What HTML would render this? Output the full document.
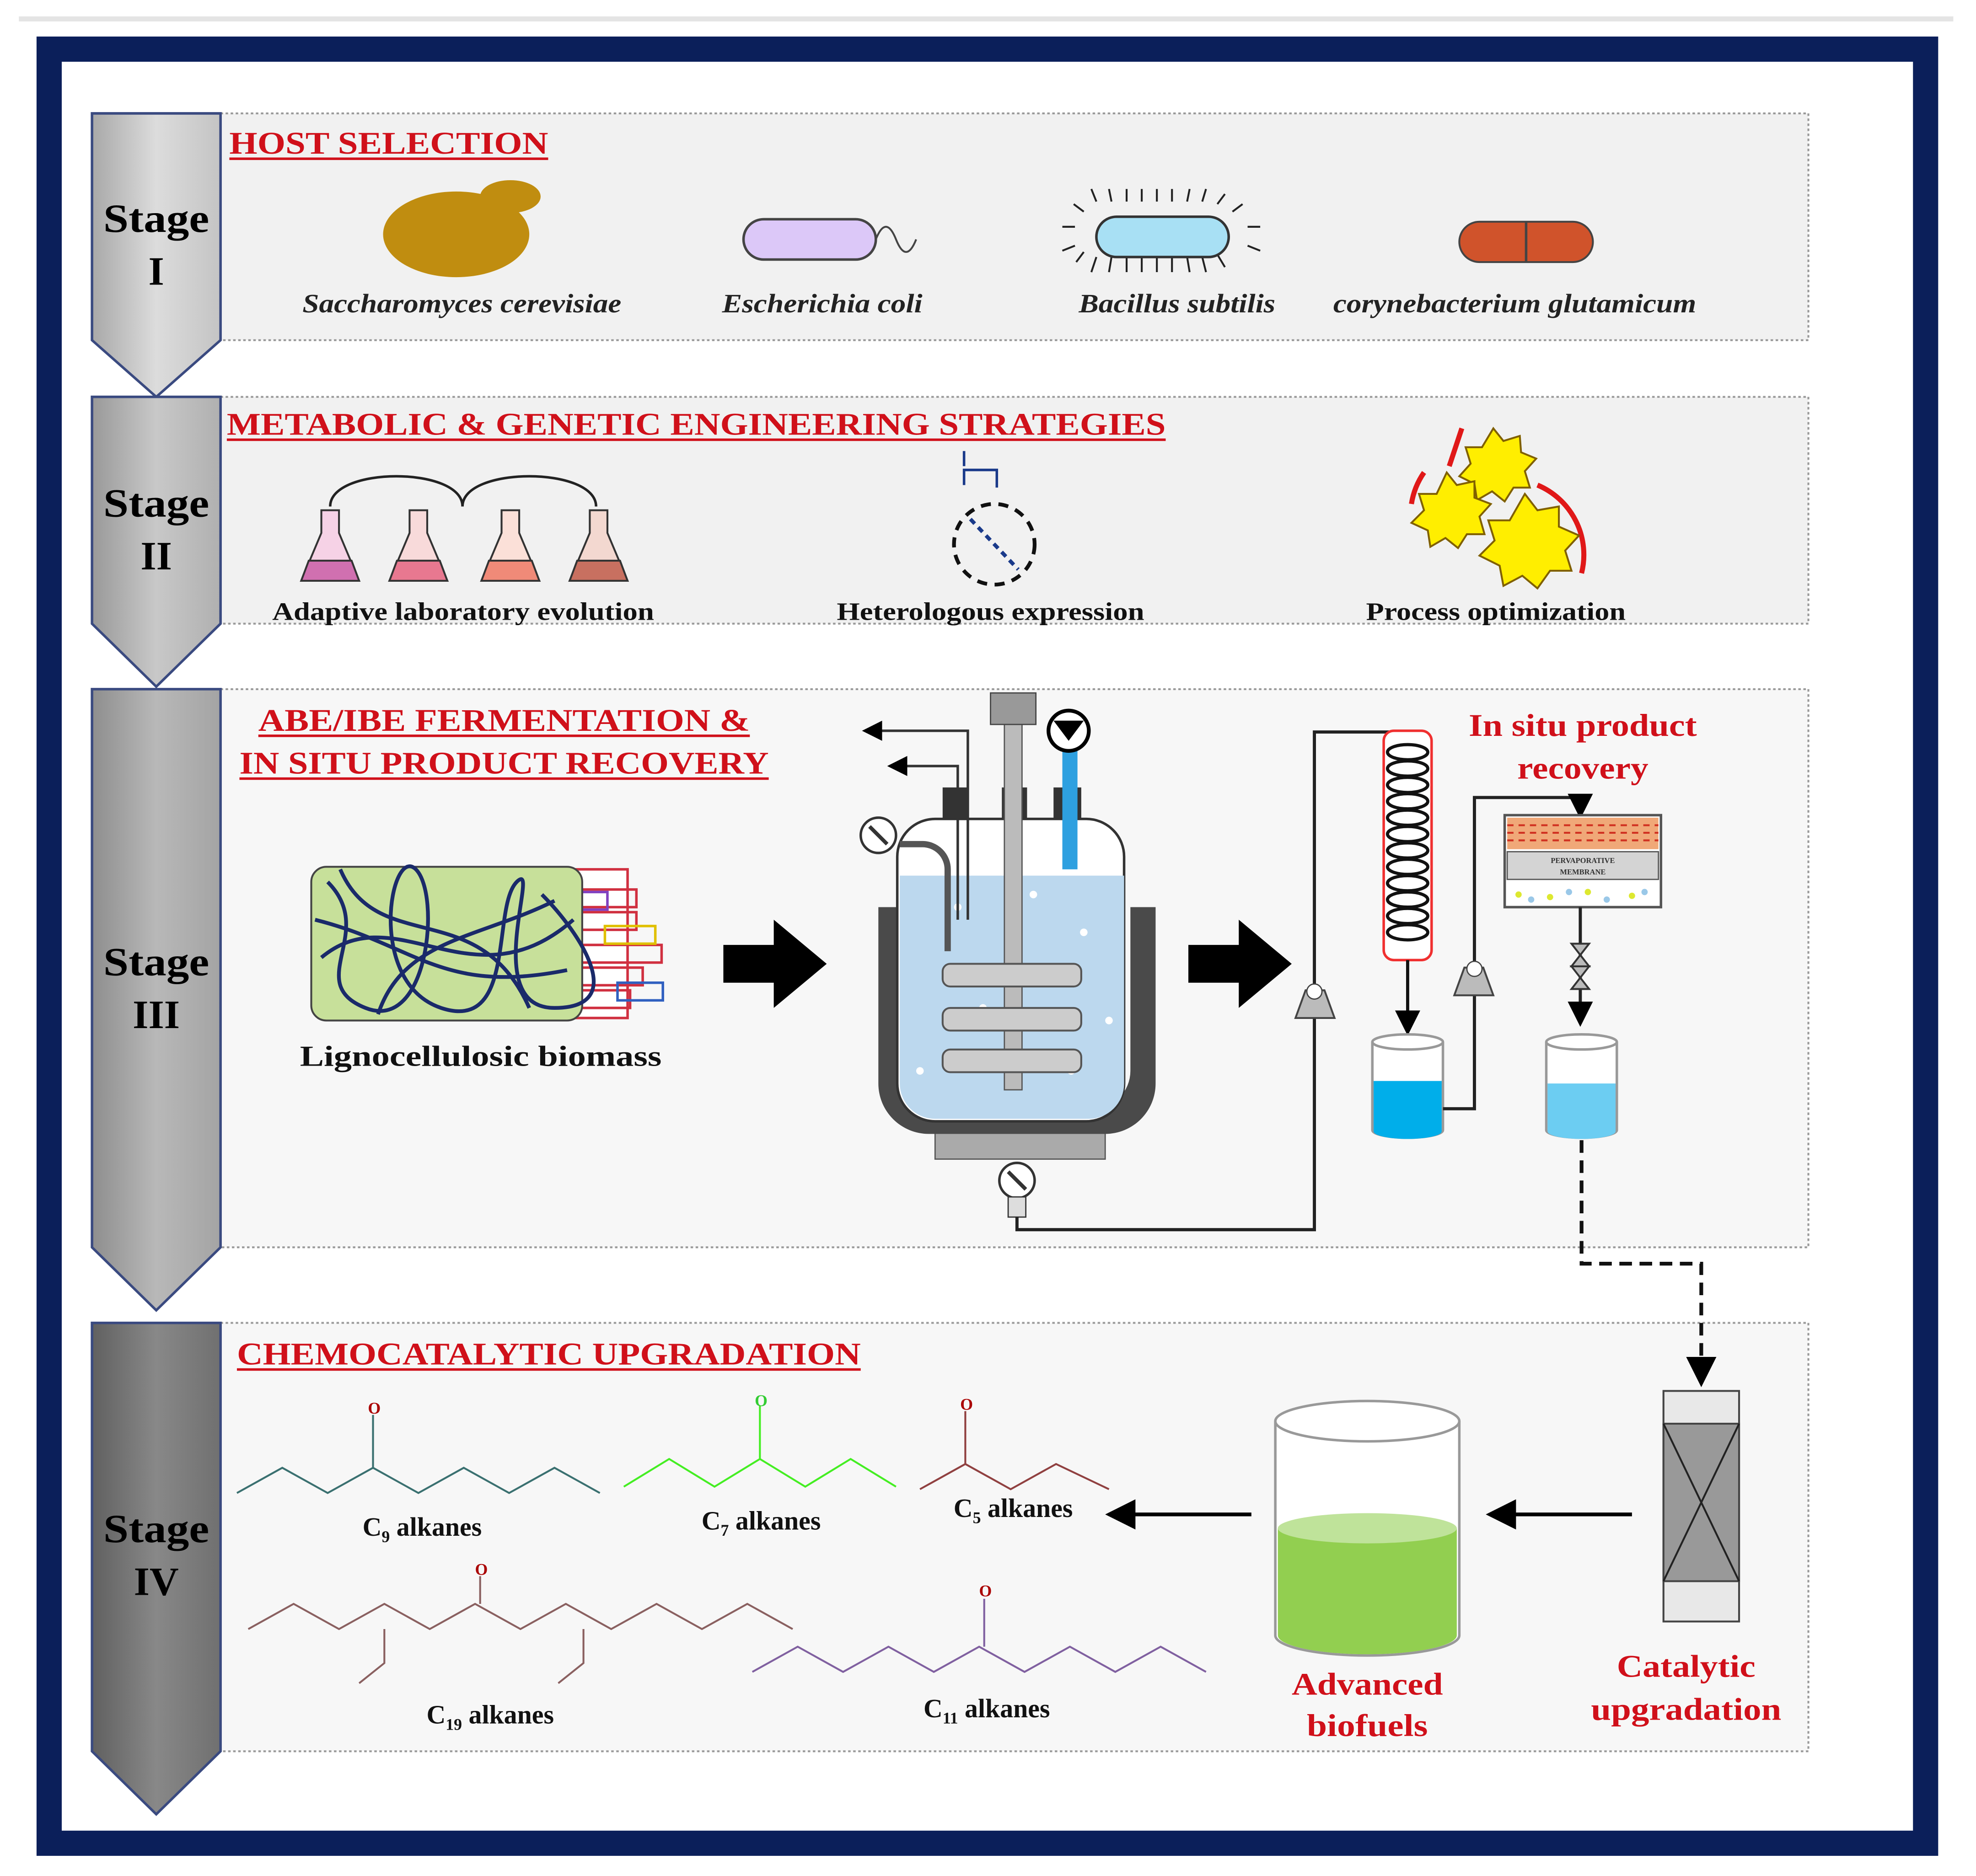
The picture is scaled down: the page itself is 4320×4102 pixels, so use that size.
<!DOCTYPE html>
<html><head><meta charset="utf-8"><style>
html,body{margin:0;padding:0;background:#fff;width:4320px;height:4102px;overflow:hidden}
svg{display:block}
text{font-family:"Liberation Serif",serif;font-weight:bold}
</style></head><body>
<svg width="4320" height="4102" viewBox="0 0 1568 1489" preserveAspectRatio="none" xmlns="http://www.w3.org/2000/svg">
<defs>
<linearGradient id="chev1" x1="0" x2="1"><stop offset="0" stop-color="#a8a8a8"/><stop offset=".5" stop-color="#dcdcdc"/><stop offset="1" stop-color="#c4c4c4"/></linearGradient>
<linearGradient id="chev2" x1="0" x2="1"><stop offset="0" stop-color="#999"/><stop offset=".5" stop-color="#c8c8c8"/><stop offset="1" stop-color="#b0b0b0"/></linearGradient>
<linearGradient id="chev3" x1="0" x2="1"><stop offset="0" stop-color="#8e8e8e"/><stop offset=".5" stop-color="#b8b8b8"/><stop offset="1" stop-color="#a4a4a4"/></linearGradient>
<linearGradient id="chev4" x1="0" x2="1"><stop offset="0" stop-color="#606060"/><stop offset=".5" stop-color="#888"/><stop offset="1" stop-color="#707070"/></linearGradient>
<marker id="ah" markerWidth="8" markerHeight="8" refX="6" refY="4" orient="auto"><path d="M0,0 L8,4 L0,8z" fill="#000"/></marker>
</defs>
<rect width="1568" height="1489" fill="#fff"/>
<rect x="15" y="13" width="1535" height="4" fill="#e4e4e4"/>
<rect x="39" y="39" width="1489" height="1424" fill="#fff" stroke="#0b1f5a" stroke-width="20"/>

<g fill="#f1f1f1" stroke="#9a9a9a" stroke-dasharray="2,2" stroke-width="1.5">
<rect x="175" y="90" width="1260" height="180"/>
<rect x="175" y="315" width="1260" height="180"/>
<rect x="175" y="547" width="1260" height="443" fill="#f7f7f7"/>
<rect x="175" y="1050" width="1260" height="340" fill="#f7f7f7"/>
</g>
<g stroke="#3a4a80" stroke-width="2">
<path d="M73,90 H175 V270 L124,315 L73,270z" fill="url(#chev1)"/>
<path d="M73,315 H175 V495 L124,545 L73,495z" fill="url(#chev2)"/>
<path d="M73,547 H175 V990 L124,1040 L73,990z" fill="url(#chev3)"/>
<path d="M73,1050 H175 V1390 L124,1440 L73,1390z" fill="url(#chev4)"/>
</g>
<g font-size="32" text-anchor="middle" fill="#000">
<text x="124" y="184" textLength="84" lengthAdjust="spacingAndGlyphs">Stage</text><text x="124" y="226">I</text>
<text x="124" y="410" textLength="84" lengthAdjust="spacingAndGlyphs">Stage</text><text x="124" y="452">II</text>
<text x="124" y="774" textLength="84" lengthAdjust="spacingAndGlyphs">Stage</text><text x="124" y="816">III</text>
<text x="124" y="1224" textLength="84" lengthAdjust="spacingAndGlyphs">Stage</text><text x="124" y="1266">IV</text>
</g>

<g fill="#d0101a" font-size="25">
<text x="182" y="122" textLength="253" lengthAdjust="spacingAndGlyphs">HOST SELECTION</text>
<text x="180" y="345" textLength="745" lengthAdjust="spacingAndGlyphs">METABOLIC &amp; GENETIC ENGINEERING STRATEGIES</text>
<text x="205" y="580" textLength="390" lengthAdjust="spacingAndGlyphs">ABE/IBE FERMENTATION &amp;</text>
<text x="190" y="614" textLength="420" lengthAdjust="spacingAndGlyphs">IN SITU PRODUCT RECOVERY</text>
<text x="188" y="1083" textLength="495" lengthAdjust="spacingAndGlyphs">CHEMOCATALYTIC UPGRADATION</text>
</g>
<line x1="182" y1="126" x2="435" y2="126" stroke="#d0101a" stroke-width="2"/>
<line x1="180" y1="349" x2="925" y2="349" stroke="#d0101a" stroke-width="2"/>
<line x1="205" y1="584" x2="595" y2="584" stroke="#d0101a" stroke-width="2"/>
<line x1="190" y1="618" x2="610" y2="618" stroke="#d0101a" stroke-width="2"/>
<line x1="188" y1="1087" x2="683" y2="1087" stroke="#d0101a" stroke-width="2"/>

<ellipse cx="362" cy="186" rx="58" ry="34" fill="#c08d10"/>
<ellipse cx="405" cy="156" rx="24" ry="13" fill="#c08d10"/>
<rect x="590" y="174" width="105" height="32" rx="16" fill="#dcc8f8" stroke="#444" stroke-width="2"/>
<path d="M695,190 q8,-20 16,0 q8,20 16,0" fill="none" stroke="#444" stroke-width="1.5"/>
<g stroke="#222" stroke-width="1.5">
<path d="M870,160 l-4,-10 M882,160 l-2,-10 M894,160 v-10 M906,160 v-10 M918,160 v-10 M930,160 v-10 M942,160 l2,-10 M954,160 l3,-10 M966,162 l6,-8 M978,168 l8,-6 M860,168 l-8,-6 M853,180 h-10 M990,180 h10 M853,195 l-10,4 M990,195 l10,4 M870,204 l-4,12 M882,204 l-2,12 M894,204 v12 M906,204 v12 M918,204 v12 M930,204 v12 M942,204 l2,12 M954,204 l3,12 M966,202 l6,10 M860,200 l-6,8"/>
</g>
<rect x="870" y="172" width="105" height="32" rx="16" fill="#a8e0f4" stroke="#333" stroke-width="2"/>
<rect x="1158" y="176" width="106" height="32" rx="16" fill="#d0532b" stroke="#444" stroke-width="1.5"/>
<line x1="1211" y1="176" x2="1211" y2="208" stroke="#444" stroke-width="2"/>
<g font-size="21" font-style="italic" fill="#222">
<text x="240" y="248" textLength="253" lengthAdjust="spacingAndGlyphs">Saccharomyces cerevisiae</text>
<text x="573" y="248" textLength="159" lengthAdjust="spacingAndGlyphs">Escherichia coli</text>
<text x="856" y="248" textLength="156" lengthAdjust="spacingAndGlyphs">Bacillus subtilis</text>
<text x="1058" y="248" textLength="288" lengthAdjust="spacingAndGlyphs">corynebacterium glutamicum</text>
</g>

<g fill="none" stroke="#222" stroke-width="2">
<path d="M262,402 C262,370 367,370 367,402 M367,402 C367,370 473,370 473,402"/>
</g>
<g stroke="#333" stroke-width="1.5">
<path d="M255,405 h14 v18 l16,38 h-46 l16,-38z" fill="#f6d2e6"/>
<path d="M245,445 h34 l6,16 h-46z" fill="#d070b0"/>
<path d="M325,405 h14 v18 l16,38 h-46 l16,-38z" fill="#f8dada"/>
<path d="M315,445 h34 l6,16 h-46z" fill="#e87890"/>
<path d="M398,405 h14 v18 l16,38 h-46 l16,-38z" fill="#fbe0d8"/>
<path d="M388,445 h34 l6,16 h-46z" fill="#f08a78"/>
<path d="M468,405 h14 v18 l16,38 h-46 l16,-38z" fill="#f3d8d0"/>
<path d="M458,445 h34 l6,16 h-46z" fill="#c87060"/>
</g>
<circle cx="789" cy="432" r="32" fill="none" stroke="#111" stroke-width="3" stroke-dasharray="8,6"/>
<path d="M770,412 L808,452" stroke="#1a3a8a" stroke-width="3" stroke-dasharray="5,4"/>
<path d="M765,358 v12 M765,385 v-12 h26 v14" stroke="#1a3a8a" stroke-width="2" fill="none"/>
<path d="M1160,340 l-10,30 M1120,400 a60,60 0 0 1 10,-25" stroke="#e01818" stroke-width="4" fill="none"/>
<path d="M1220,385 a60,60 0 0 1 35,70" stroke="#e01818" stroke-width="4" fill="none"/>
<g fill="#ffee00" stroke="#806000" stroke-width="1.5">
<polygon points="1185,340 1193,350 1206,346 1207,359 1219,364 1210,374 1214,387 1201,387 1194,398 1184,390 1172,397 1170,384 1158,378 1167,368 1163,355 1176,355"/>
<polygon points="1148,375 1156,385 1170,382 1170,395 1183,400 1174,410 1178,424 1164,424 1157,435 1147,427 1135,434 1133,421 1120,415 1130,405 1126,392 1140,392"/>
<polygon points="1210,392 1220,405 1237,402 1237,418 1253,425 1242,437 1247,453 1230,453 1220,467 1208,457 1193,465 1190,449 1174,441 1186,429 1181,413 1198,413"/>
</g>
<g font-size="20" fill="#111">
<text x="216" y="492" textLength="303" lengthAdjust="spacingAndGlyphs">Adaptive laboratory evolution</text>
<text x="664" y="492" textLength="244" lengthAdjust="spacingAndGlyphs">Heterologous expression</text>
<text x="1084" y="492" textLength="206" lengthAdjust="spacingAndGlyphs">Process optimization</text>
</g>

<rect x="448" y="690" width="50" height="118" fill="#fff" stroke="#d03040" stroke-width="2"/>
<g stroke="#d03040" stroke-width="2" fill="none">
<rect x="455" y="706" width="50" height="14"/><rect x="455" y="724" width="50" height="14"/><rect x="460" y="750" width="65" height="14"/><rect x="455" y="768" width="55" height="14"/><rect x="455" y="786" width="45" height="14"/>
<rect x="480" y="735" width="40" height="14" stroke="#e0c000"/><rect x="490" y="780" width="36" height="14" stroke="#3060c0"/><rect x="452" y="708" width="30" height="14" stroke="#8040c0"/>
</g>
<rect x="247" y="688" width="215" height="122" rx="12" fill="#c7e09a" stroke="#444" stroke-width="1.5"/>
<path d="M260,700 c40,40 -20,80 30,100 s60,-90 40,-110 s-40,90 20,110 s40,-80 60,-100 s-30,100 30,100 s20,-60 -10,-90 M255,760 c60,-50 120,40 200,-30 M270,690 c30,70 110,20 150,110 M300,805 c20,-60 80,-60 140,-90 M250,730 c80,20 100,60 200,40" fill="none" stroke="#1a2a6a" stroke-width="3"/>
<text x="238" y="846" font-size="23" fill="#111" textLength="287" lengthAdjust="spacingAndGlyphs">Lignocellulosic biomass</text>
<path d="M574,750 h40 v-20 l42,35 l-42,35 v-20 h-40z" fill="#000"/>
<path d="M943,750 h40 v-20 l42,35 l-42,35 v-20 h-40z" fill="#000"/>

<rect x="742" y="895" width="135" height="25" fill="#aaa" stroke="#555"/>
<path d="M697,720 v140 a40,40 0 0 0 40,40 h140 a40,40 0 0 0 40,-40 v-140 h-20 v130 a30,30 0 0 1 -30,30 h-120 a30,30 0 0 1 -30,-30 v-130z" fill="#4a4a4a"/>
<path d="M712,680 a30,30 0 0 1 30,-30 h120 a30,30 0 0 1 30,30 v180 a30,30 0 0 1 -30,30 h-120 a30,30 0 0 1 -30,-30z" fill="#fff" stroke="#333" stroke-width="2"/>
<path d="M714,695 h178 v165 a28,28 0 0 1 -28,28 h-122 a28,28 0 0 1 -28,-28z" fill="#bcd8ee"/>
<g fill="#fff"><circle cx="760" cy="720" r="3"/><circle cx="860" cy="740" r="3"/><circle cx="780" cy="800" r="3"/><circle cx="850" cy="850" r="3"/><circle cx="730" cy="850" r="3"/><circle cx="880" cy="810" r="3"/><circle cx="820" cy="710" r="3"/></g>
<rect x="748" y="625" width="20" height="25" fill="#333"/><rect x="795" y="625" width="20" height="25" fill="#333"/><rect x="836" y="625" width="22" height="25" fill="#333"/>
<rect x="797" y="570" width="14" height="295" fill="#bbb" stroke="#555"/>
<rect x="786" y="550" width="36" height="25" fill="#999" stroke="#444"/>
<g fill="#ccc" stroke="#555" stroke-width="1.5">
<rect x="748" y="765" width="110" height="18" rx="6"/><rect x="748" y="800" width="110" height="18" rx="6"/><rect x="748" y="833" width="110" height="18" rx="6"/>
</g>
<rect x="843" y="590" width="12" height="100" fill="#2ea0e0"/>
<circle cx="848" cy="580" r="16" fill="#fff" stroke="#000" stroke-width="3"/><path d="M836,572 h24 l-12,16z" fill="#000"/>
<path d="M768,730 v-150 h-80" fill="none" stroke="#333" stroke-width="2" marker-end="url(#ah)"/>
<path d="M760,730 v-122 h-52" fill="none" stroke="#333" stroke-width="2" marker-end="url(#ah)"/>
<path d="M752,755 v-65 a20,20 0 0 0 -20,-20 h-18" fill="none" stroke="#555" stroke-width="5"/>
<circle cx="697" cy="663" r="14" fill="#fff" stroke="#333" stroke-width="2"/><path d="M690,656 l14,14" stroke="#333" stroke-width="3"/>
<circle cx="807" cy="937" r="14" fill="#fff" stroke="#333" stroke-width="2"/><path d="M800,930 l14,14" stroke="#333" stroke-width="3"/>
<rect x="800" y="950" width="14" height="16" fill="#ddd" stroke="#333"/>
<path d="M807,966 v10 h236 v-395 h75 v15" fill="none" stroke="#222" stroke-width="2.5" marker-end="url(#ah)"/>
<path d="M1028,808 l8,-22 h15 l8,22z" fill="#bbb" stroke="#444" stroke-width="1.5"/><circle cx="1043" cy="787" r="6" fill="#fff" stroke="#444"/>
<rect x="1098" y="580" width="38" height="182" rx="8" fill="#fff" stroke="#f03030" stroke-width="2"/>
<g fill="none" stroke="#111" stroke-width="2.5">
<ellipse cx="1117" cy="597" rx="16" ry="6"/><ellipse cx="1117" cy="610" rx="16" ry="6"/><ellipse cx="1117" cy="623" rx="16" ry="6"/><ellipse cx="1117" cy="636" rx="16" ry="6"/><ellipse cx="1117" cy="649" rx="16" ry="6"/><ellipse cx="1117" cy="662" rx="16" ry="6"/><ellipse cx="1117" cy="675" rx="16" ry="6"/><ellipse cx="1117" cy="688" rx="16" ry="6"/><ellipse cx="1117" cy="701" rx="16" ry="6"/><ellipse cx="1117" cy="714" rx="16" ry="6"/><ellipse cx="1117" cy="727" rx="16" ry="6"/><ellipse cx="1117" cy="740" rx="16" ry="6"/>
</g>
<path d="M1117,762 v55" stroke="#111" stroke-width="2.5" marker-end="url(#ah)"/>
<path d="M1089,827 v70 a28,6 0 0 0 56,0 v-70" fill="#fff" stroke="#999" stroke-width="2"/>
<path d="M1090,858 h54 v40 a27,6 0 0 1 -54,0z" fill="#00aeea"/>
<ellipse cx="1117" cy="827" rx="28" ry="6" fill="#fff" stroke="#999" stroke-width="2"/>
<path d="M1145,880 h25 v-247 h84 v12" fill="none" stroke="#222" stroke-width="2.5" marker-end="url(#ah)"/>
<path d="M1154,790 l8,-22 h15 l8,22z" fill="#bbb" stroke="#444" stroke-width="1.5"/><circle cx="1170" cy="769" r="6" fill="#fff" stroke="#444"/>
<rect x="1194" y="647" width="124" height="73" fill="#fff" stroke="#555" stroke-width="2"/>
<rect x="1196" y="649" width="120" height="25" fill="#f0a878"/>
<path d="M1196,655 h120 M1196,661 h120 M1196,667 h120" stroke="#d03020" stroke-dasharray="5,4" stroke-width="1.5"/>
<rect x="1196" y="676" width="120" height="22" fill="#d4d4d4" stroke="#555"/>
<text x="1256" y="685" font-size="6" text-anchor="middle" fill="#333">PERVAPORATIVE</text>
<text x="1256" y="694" font-size="6" text-anchor="middle" fill="#333">MEMBRANE</text>
<g fill="#dde830"><circle cx="1205" cy="710" r="2.5"/><circle cx="1230" cy="712" r="2.5"/><circle cx="1260" cy="708" r="2.5"/><circle cx="1295" cy="711" r="2.5"/></g>
<g fill="#9ac8e8"><circle cx="1215" cy="714" r="2.5"/><circle cx="1245" cy="708" r="2.5"/><circle cx="1275" cy="714" r="2.5"/><circle cx="1305" cy="708" r="2.5"/></g>
<path d="M1254,720 v90" stroke="#222" stroke-width="2.5" marker-end="url(#ah)"/>
<path d="M1247,749 h14 l-14,18 h14z M1247,785 h14 l-14,-18 h14z" fill="#bbb" stroke="#333" stroke-width="1.5"/>
<path d="M1227,827 v70 a28,6 0 0 0 56,0 v-70" fill="#fff" stroke="#999" stroke-width="2"/>
<path d="M1228,860 h54 v38 a27,6 0 0 1 -54,0z" fill="#6ccdf2"/>
<ellipse cx="1255" cy="827" rx="28" ry="6" fill="#fff" stroke="#999" stroke-width="2"/>
<g fill="#d0101a" font-size="25" text-anchor="middle">
<text x="1256" y="584" textLength="181" lengthAdjust="spacingAndGlyphs">In situ product</text>
<text x="1256" y="618" textLength="104" lengthAdjust="spacingAndGlyphs">recovery</text>
</g>
<path d="M1255,905 v98 h95 v92" fill="none" stroke="#111" stroke-width="3" stroke-dasharray="10,6" marker-end="url(#ah)"/>

<rect x="1320" y="1104" width="60" height="183" fill="#e8e8e8" stroke="#444" stroke-width="1.5"/>
<rect x="1320" y="1130" width="60" height="125" fill="#999" stroke="#444" stroke-width="1.5"/>
<path d="M1320,1130 L1380,1255 M1380,1130 L1320,1255" stroke="#222" stroke-width="1.5"/>
<path d="M1295,1202 h-110" stroke="#000" stroke-width="3" marker-end="url(#ah)"/>
<path d="M993,1202 h-110" stroke="#000" stroke-width="3" marker-end="url(#ah)"/>
<path d="M1012,1128 v170 a73,16 0 0 0 146,0 v-170" fill="#fff" stroke="#999" stroke-width="2"/>
<path d="M1014,1213 h142 v85 a71,15 0 0 1 -142,0z" fill="#92cf50"/>
<ellipse cx="1085" cy="1213" rx="71" ry="12" fill="#bfe39a"/>
<ellipse cx="1085" cy="1128" rx="73" ry="16" fill="#fff" stroke="#999" stroke-width="2"/>
<g fill="#d0101a" font-size="25" text-anchor="middle">
<text x="1085" y="1345" textLength="120" lengthAdjust="spacingAndGlyphs">Advanced</text><text x="1085" y="1378" textLength="96" lengthAdjust="spacingAndGlyphs">biofuels</text>
<text x="1338" y="1331" textLength="110" lengthAdjust="spacingAndGlyphs">Catalytic</text><text x="1338" y="1365" textLength="151" lengthAdjust="spacingAndGlyphs">upgradation</text>
</g>
<g fill="none" stroke-width="1.5">
<path d="M188,1185 l36,-20 l36,20 l36,-20 l36,20 l36,-20 l36,20 l36,-20 l36,20 M296,1165 v-42" stroke="#3a7070"/>
<path d="M495,1180 l36,-22 l36,22 l36,-22 l36,22 l36,-22 l36,22 M603,1158 v-42" stroke="#44ee22"/>
<path d="M730,1182 l36,-20 l36,20 l36,-20 l42,20 M766,1162 v-42" stroke="#904040"/>
<path d="M197,1293 l36,-20 l36,20 l36,-20 l36,20 l36,-20 l36,20 l36,-20 l36,20 l36,-20 l36,20 l36,-20 l36,20 M305,1293 v27 l-20,16 M381,1273 v-22 M463,1293 v27 l-20,16" stroke="#8a6060"/>
<path d="M597,1327 l36,-20 l36,20 l36,-20 l36,20 l36,-20 l36,20 l36,-20 l36,20 l36,-20 l36,20 M781,1307 v-38" stroke="#8060a0"/>
</g>
<g font-size="13" fill="#a00" text-anchor="middle" font-weight="normal">
<text x="297" y="1122">O</text><text x="604" y="1116" fill="#3c3">O</text><text x="767" y="1119">O</text><text x="382" y="1250">O</text><text x="782" y="1267">O</text>
</g>
<g font-size="21" fill="#111" text-anchor="middle">
<text x="335" y="1219">C<tspan font-size="13" dy="5">9</tspan><tspan dy="-5"> alkanes</tspan></text>
<text x="604" y="1214">C<tspan font-size="13" dy="5">7</tspan><tspan dy="-5"> alkanes</tspan></text>
<text x="804" y="1204">C<tspan font-size="13" dy="5">5</tspan><tspan dy="-5"> alkanes</tspan></text>
<text x="389" y="1368">C<tspan font-size="13" dy="5">19</tspan><tspan dy="-5"> alkanes</tspan></text>
<text x="783" y="1363">C<tspan font-size="13" dy="5">11</tspan><tspan dy="-5"> alkanes</tspan></text>
</g>
</svg>
</body></html>
